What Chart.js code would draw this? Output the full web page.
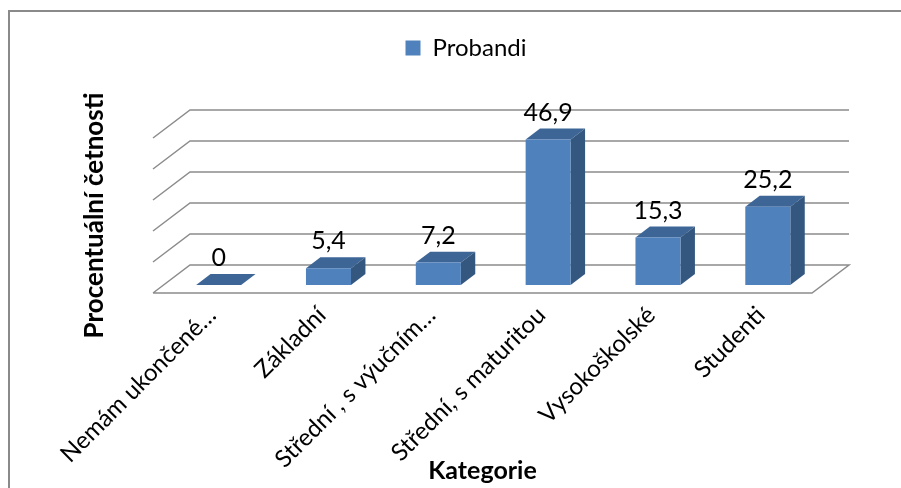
<!DOCTYPE html>
<html>
<head>
<meta charset="utf-8">
<script src="https://cdn.jsdelivr.net/npm/chart.js@4.4.1/dist/chart.umd.min.js"></script>
<style>
  html, body { margin: 0; padding: 0; background: #fff; }
  #wrap { width: 901px; height: 488px; }
</style>
</head>
<body>
<div id="wrap"><canvas id="myChart"></canvas></div>
<script>
  const categories = ['Nemám ukončené…', 'Základní', 'Střední , s výučním…', 'Střední, s maturitou', 'Vysokoškolské', 'Studenti'];
  const probandi = [0, 5.4, 7.2, 46.9, 15.3, 25.2];
  const seriesName = 'Probandi';
  const yMin = 0, yMax = 50, yStep = 10;
  const xTitle = 'Kategorie';
  const yTitle = 'Procentuální četnosti';

  // fake 3d: depth of the floor, and where the bars sit inside it
  const depthX = 37, depthY = 28;
  const barFront = 0.29, barBack = 0.68;
  const frontColor = '#4f81bd', topColor = '#3d6697', sideColor = '#34577f';
  const gridColor = '#8c8c8c';
  const family = 'Lato, "Open Sans", sans-serif';

  const fmt = v => String(v).replace('.', ',');

  const fake3d = {
    id: 'fake3d',
    beforeLayout(chart) {
      const lg = chart.legend;
      if (lg && !lg._spaced) {
        const fit = lg.fit.bind(lg);
        lg.fit = function () { fit(); this.height = 112; };
        lg._spaced = true;
      }
    },
    beforeDraw(chart) {
      const c = chart.ctx;
      c.save();
      c.strokeStyle = '#8a8a8a';
      c.lineWidth = 2;
      c.beginPath();
      c.moveTo(9, chart.height);
      c.lineTo(9, 11);
      c.lineTo(chart.width, 11);
      c.stroke();
      c.restore();
    },
    beforeDatasetsDraw(chart) {
      const { ctx: c, chartArea: a, scales: { y } } = chart;
      c.save();
      c.strokeStyle = gridColor;
      c.lineWidth = 1.5;
      y.ticks.forEach(t => {
        const py = y.getPixelForValue(t.value);
        c.beginPath();
        c.moveTo(a.left, py);
        c.lineTo(a.left + depthX, py - depthY);
        c.lineTo(a.right + depthX, py - depthY);
        if (t.value === yMin) {
          c.lineTo(a.right, py);
          c.lineTo(a.left, py);
        }
        c.stroke();
      });

      const fx = depthX * barFront, fy = depthY * barFront;
      const dx = depthX * (barBack - barFront), dy = depthY * (barBack - barFront);
      chart.getDatasetMeta(0).data.forEach(bar => {
        const p = bar.getProps(['x', 'y', 'base', 'width'], true);
        const l = p.x - p.width / 2 + fx, r = p.x + p.width / 2 + fx;
        const t = p.y - fy, b = p.base - fy;
        c.fillStyle = topColor;
        c.beginPath();
        c.moveTo(l, t); c.lineTo(l + dx, t - dy); c.lineTo(r + dx, t - dy); c.lineTo(r, t);
        c.closePath(); c.fill();
        c.fillStyle = sideColor;
        c.beginPath();
        c.moveTo(r, t); c.lineTo(r + dx, t - dy); c.lineTo(r + dx, b - dy); c.lineTo(r, b);
        c.closePath(); c.fill();
      });
      c.restore();
      // the library draws the front faces, pushed back into the floor
      c.save();
      c.translate(fx, -fy);
    },
    afterDatasetsDraw(chart) {
      const c = chart.ctx;
      c.restore();
      const fx = depthX * barFront, backY = depthY * barBack;
      c.save();
      c.fillStyle = '#000';
      c.font = '25px ' + family;
      c.textAlign = 'center';
      c.textBaseline = 'alphabetic';
      chart.getDatasetMeta(0).data.forEach((bar, i) => {
        const p = bar.getProps(['x', 'y'], true);
        c.fillText(fmt(probandi[i]), p.x + fx, p.y - backY - 8);
      });
      c.restore();
    }
  };

  const ctx = document.getElementById('myChart');
  new Chart(ctx, {
    type: 'bar',
    data: {
      labels: categories,
      datasets: [{
        label: seriesName,
        data: probandi,
        backgroundColor: frontColor,
        borderWidth: 0,
        barPercentage: 0.41,
        categoryPercentage: 1,
        clip: false
      }]
    },
    options: {
      responsive: true,
      maintainAspectRatio: false,
      animation: false,
      layout: { padding: { left: 31, top: 26, right: 0, bottom: 0 } },
      plugins: {
        legend: {
          position: 'top',
          labels: { boxWidth: 15, boxHeight: 15, padding: 10, color: '#000', font: { family: family, size: 24 } }
        },
        tooltip: { enabled: false }
      },
      scales: {
        x: {
          grid: { display: false },
          border: { display: false },
          ticks: {
            color: '#000', font: { family: family, size: 24 },
            minRotation: 45, maxRotation: 45, autoSkip: false,
            padding: 0, labelOffset: 4
          },
          title: {
            display: true, text: xTitle, color: '#000',
            font: { family: family, size: 25, weight: 'bold' },
            padding: { top: 0, bottom: 2 }
          },
          afterFit(s) { s.height = 195; }
        },
        y: {
          min: yMin, max: yMax,
          ticks: { stepSize: yStep, display: false },
          grid: { display: false },
          border: { display: false },
          title: {
            display: true, text: yTitle, color: '#000',
            font: { family: family, size: 26, weight: 'bold' },
            padding: { top: 48, bottom: 0 }
          },
          afterFit(s) { s.width = 122; }
        },
        yRight: {
          position: 'right',
          ticks: { display: false },
          grid: { display: false },
          border: { display: false },
          afterFit(s) { s.width = 89; }
        }
      }
    },
    plugins: [fake3d]
  });
</script>
</body>
</html>
